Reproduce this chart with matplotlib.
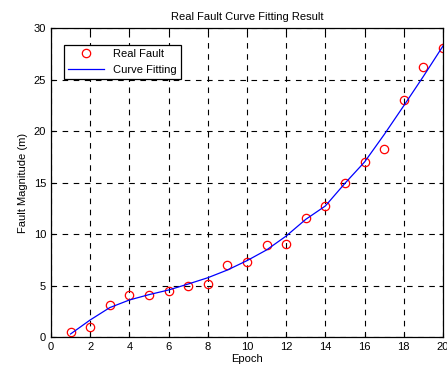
import matplotlib
matplotlib.use('Agg')
import matplotlib.pyplot as plt

plt.rcParams['font.family'] = ['Liberation Sans', 'DejaVu Sans']
plt.rcParams['lines.scale_dashes'] = False

epochs = list(range(1, 21))
real_fault = [0.5, 1.05, 3.2, 4.1, 4.1, 4.55, 4.97, 5.16, 7.0, 7.33,
              8.95, 9.05, 11.6, 12.8, 15.0, 17.04, 18.27, 23.1, 26.3, 28.1]
curve_fit = [0.34, 1.7, 2.9, 3.64, 4.16, 4.61, 5.19, 5.8, 6.55, 7.46,
             8.5, 9.85, 11.47, 12.77, 14.97, 17.04, 19.7, 22.5, 25.35, 28.3]

fig = plt.figure(figsize=(4.47, 3.69), dpi=100)
ax = fig.add_axes([0.114, 0.0854, 0.877, 0.8374])

ax.plot(epochs, real_fault, 'o', mfc='none', mec='red', ms=6, mew=0.9, label='Real Fault')
ax.plot(epochs, curve_fit, '-', color='blue', lw=0.9, label='Curve Fitting')

ax.set_xlim(0, 20)
ax.set_ylim(0, 30)
ax.set_xticks(range(0, 21, 2))
ax.set_yticks(range(0, 31, 5))
ax.grid(True, color='black', linestyle=(0, (4, 4)), linewidth=0.8)
ax.tick_params(direction='in', top=True, right=True, labelsize=8, length=3, width=0.8)
for s in ax.spines.values():
    s.set_linewidth(0.9)

ax.set_title('Real Fault Curve Fitting Result', fontsize=8, pad=6)
ax.set_xlabel('Epoch', fontsize=8, labelpad=1)
ax.set_ylabel('Fault Magnitude (m)', fontsize=8, labelpad=4)

leg = ax.legend(loc='upper left', bbox_to_anchor=(0.033, 0.947), fontsize=8,
                fancybox=False, framealpha=1, edgecolor='black', borderaxespad=0,
                handlelength=3.2, handletextpad=0.8, borderpad=0.4, labelspacing=0.5)
leg.get_frame().set_linewidth(0.9)

fig.savefig('out.png', dpi=100)
